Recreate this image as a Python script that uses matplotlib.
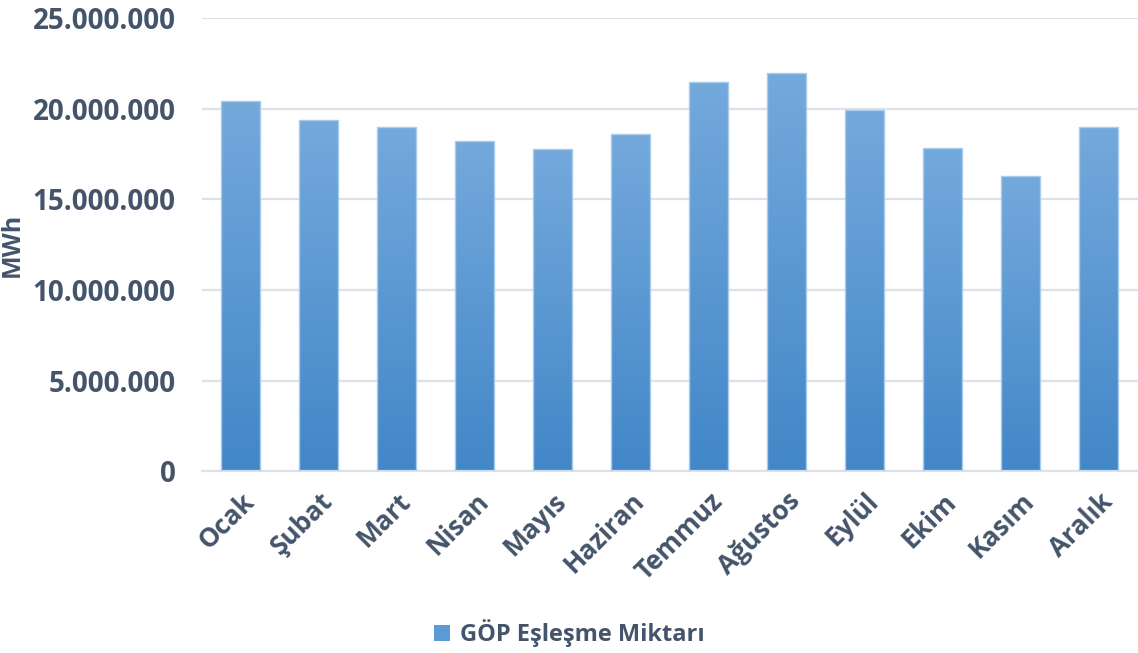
import matplotlib
matplotlib.use("Agg")
from matplotlib import pyplot as plt
from matplotlib.colors import LinearSegmentedColormap
from matplotlib.patches import Patch
from matplotlib.ticker import FuncFormatter
import numpy as np

months = ["Ocak", "Şubat", "Mart", "Nisan", "Mayıs", "Haziran",
          "Temmuz", "Ağustos", "Eylül", "Ekim", "Kasım", "Aralık"]
gop_mwh = [20440000, 19390000, 19000000, 18230000, 17790000, 18600000,
           21510000, 21970000, 19930000, 17830000, 16320000, 18990000]

txt = "#44546a"
plt.rcParams['font.family'] = ['Open Sans', 'DejaVu Sans']
plt.rcParams['font.weight'] = 'bold'

fig = plt.figure(figsize=(11.38, 6.53), dpi=100)
ax = fig.add_axes([0.1775, 0.2787, 0.8225, 0.693])

x = np.arange(len(months))
bars = ax.bar(x, gop_mwh, width=0.5, color="#5b9bd5", edgecolor="#a9cbec",
              linewidth=1, zorder=2)

# vertical gradient fill inside each bar
cmap = LinearSegmentedColormap.from_list("blu", ["#4287c8", "#74a9dc"])
grad = np.linspace(0, 1, 256).reshape(-1, 1)
for b in bars:
    bx, by = b.get_x(), b.get_y()
    bw, bh = b.get_width(), b.get_height()
    im = ax.imshow(grad, cmap=cmap, origin="lower", aspect="auto",
                   extent=[bx, bx + bw, by, by + bh], zorder=2.5)
    im.set_clip_path(b)
    b.set_facecolor("none")
    b.set_zorder(3)

ax.set_xlim(-0.5, 11.5)
ax.set_ylim(0, 25000000)
ax.set_yticks(np.arange(0, 25000001, 5000000))
ax.yaxis.set_major_formatter(FuncFormatter(lambda v, p: f"{int(v):,}".replace(",", ".")))
ax.grid(axis="y", color="#dde1e8", linewidth=1.6, zorder=0)
ax.set_axisbelow(True)
for s in ["top", "right", "left"]:
    ax.spines[s].set_visible(False)
ax.spines["bottom"].set_color("#dde1e8")
ax.spines["bottom"].set_linewidth(1.6)
ax.tick_params(axis="both", length=0, colors=txt, labelsize=20)
ax.tick_params(axis="y", pad=19)
ax.tick_params(axis="x", pad=12)
ax.set_xticks(x)
ax.set_xticklabels(months, rotation=45, ha="right", rotation_mode="anchor",
                   color=txt, fontsize=19, fontweight="bold")
for lbl in ax.get_yticklabels():
    lbl.set_fontweight("bold")
ax.set_ylabel("MWh", color=txt, fontsize=18, fontweight="bold")
ax.yaxis.set_label_coords(-0.189, 0.5)

handle = Patch(facecolor="#5b9bd5", edgecolor="none")
fig.legend([handle], ["GÖP Eşleşme Miktarı"], loc="center", ncol=1,
           bbox_to_anchor=(0.5, 0.03), frameon=False, handlelength=0.7,
           handleheight=0.7, handletextpad=0.4,
           prop={"size": 17, "weight": "bold"}, labelcolor=txt)

fig.savefig("out.png", dpi=100)
